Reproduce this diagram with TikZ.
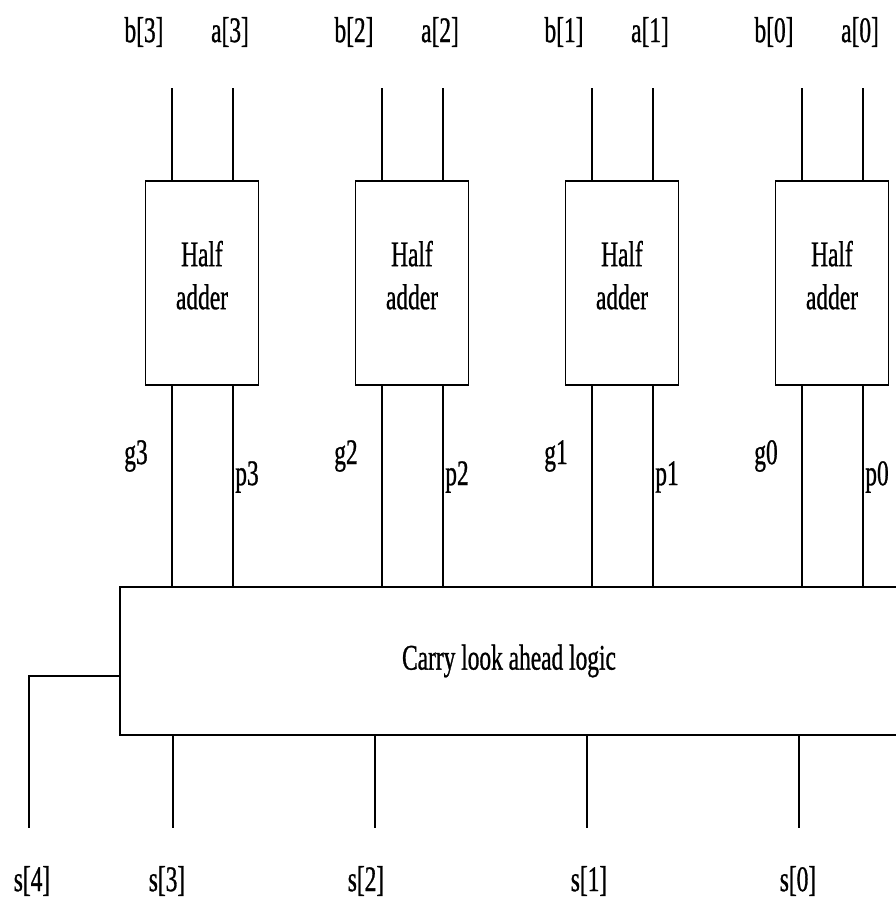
\documentclass[tikz,border=0pt]{standalone}
\usepackage{fontspec}
\setmainfont{Liberation Serif}[FakeStretch=0.65, FakeBold=0.8]
\usetikzlibrary{positioning, calc}

\tikzset{
  wire/.style={line width=1.7pt},
  lbl/.style={font=\fontsize{36}{43}\selectfont, inner sep=0pt},
  habox/.style={draw, wire, lbl, align=center, text depth=16pt, minimum width=113pt, minimum height=204pt},
}

\begin{document}
\begin{tikzpicture}[x=1pt, y=-1pt]
    \useasboundingbox (0,0) rectangle (896,902);
    % carry look ahead block, runs past the right edge
    \node[draw, wire, lbl, minimum width=778pt, minimum height=148pt] (cla) at (509,661) {Carry look ahead logic};
    % half adders, bit 3 on the left
    \foreach \i/\c in {3/202, 2/412, 1/622, 0/832} {
        \node[habox] (ha\i) at (\c,283) {Half\\adder};
        \coordinate (b\i) at (\c-30,88);
        \coordinate (a\i) at (\c+31,88);
        \node[lbl] (lb\i) at (\c-58,32) {b[\i]};
        \node[lbl] (la\i) at (\c+28,32) {a[\i]};
        \draw[wire] (b\i) -- (ha\i.north -| b\i);
        \draw[wire] (a\i) -- (ha\i.north -| a\i);
        % generate / propagate into the CLA block
        \draw[wire] (ha\i.south -| b\i) -- (cla.north -| b\i);
        \draw[wire] (ha\i.south -| a\i) -- (cla.north -| a\i);
        \node[lbl] (g\i) at (\c-66,456) {g\i};
        \node[lbl] (p\i) at (\c+45,477) {p\i};
    }
    % sum outputs
    \foreach \i/\x/\lx in {3/173/167, 2/375/366, 1/587/589, 0/799/798} {
        \coordinate (s\i) at (\x,828);
        \draw[wire] (cla.south -| s\i) -- (s\i);
        \node[lbl] (ls\i) at (\lx,881) {s[\i]};
    }
    % carry out s[4] leaves on the left side
    \coordinate (s4top) at (29,676);
    \coordinate (s4) at (29,828);
    \draw[wire] (cla.west |- s4top) -- (s4top) -- (s4);
    \node[lbl] (ls4) at (32,881) {s[4]};
\end{tikzpicture}
\end{document}
